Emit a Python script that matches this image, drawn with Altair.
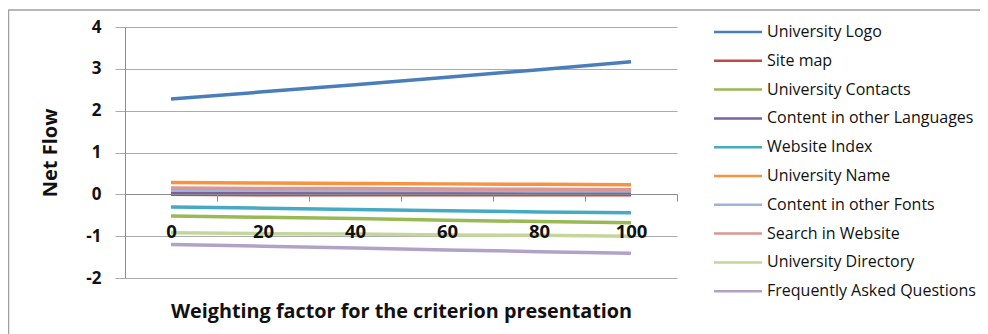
import altair as alt
import pandas as pd

weights = [0, 20, 40, 60, 80, 100]
series = [
    "University Logo", "Site map", "University Contacts", "Content in other Languages",
    "Website Index", "University Name", "Content in other Fonts", "Search in Website",
    "University Directory", "Frequently Asked Questions",
]
colors = ["#4A7EBB", "#BE4B48", "#98B954", "#7D60A0", "#46AAC5",
          "#F69240", "#9BB4D8", "#D99694", "#C3D69B", "#B3A2C7"]

university_logo = [2.28, 2.45, 2.62, 2.80, 2.98, 3.17]
site_map = [0.00, -0.01, -0.01, -0.01, -0.01, -0.01]
university_contacts = [-0.52, -0.55, -0.58, -0.62, -0.65, -0.68]
content_languages = [0.05, 0.05, 0.04, 0.04, 0.03, 0.03]
website_index = [-0.30, -0.33, -0.36, -0.39, -0.42, -0.44]
university_name = [0.28, 0.27, 0.26, 0.25, 0.24, 0.23]
content_fonts = [0.10, 0.10, 0.09, 0.09, 0.08, 0.08]
search_website = [0.15, 0.14, 0.14, 0.13, 0.12, 0.11]
university_directory = [-0.92, -0.94, -0.95, -0.97, -0.98, -1.00]
faq = [-1.20, -1.24, -1.28, -1.33, -1.37, -1.41]

values = [university_logo, site_map, university_contacts, content_languages,
          website_index, university_name, content_fonts, search_website,
          university_directory, faq]

rows = []
for i, (name, vals) in enumerate(zip(series, values)):
    for w, v in zip(weights, vals):
        rows.append({"weight": w, "net": v, "series": name, "idx": i})
df = pd.DataFrame(rows)

FONT = "Open Sans"

lines = alt.Chart(df).mark_line(strokeWidth=3.5, clip=False).encode(
    x=alt.X("weight:Q",
            scale=alt.Scale(domain=[-10, 110], nice=False, zero=False),
            axis=alt.Axis(values=weights, offset=-84, tickOffset=46, labelOffset=-46,
                          tickSize=7, tickColor="#8c8c8c", domainColor="#8c8c8c",
                          grid=False, labelPadding=21, labelFontSize=18.5,
                          labelFontWeight="bold", labelColor="#111111", labelFont=FONT,
                          zindex=1,
                          title="Weighting factor for the criterion presentation",
                          titleFont=FONT, titleFontSize=19.8, titleFontWeight="bold",
                          titleColor="#111111", titleY=117, titleBaseline="middle")),
    y=alt.Y("net:Q",
            scale=alt.Scale(domain=[-2, 4], nice=False, zero=False),
            axis=alt.Axis(values=[-2, -1, 0, 1, 2, 3, 4], grid=True, gridColor="#ababab",
                          tickColor="#ababab", tickSize=10, domainColor="#8c8c8c",
                          labelPadding=14, labelFontSize=17, labelFontWeight="bold",
                          labelColor="#111111", labelFont=FONT,
                          labelExpr="'' + datum.value",
                          title="Net Flow", titleFont=FONT, titleFontSize=20,
                          titleFontWeight="bold", titleColor="#111111",
                          titleX=-75, titleBaseline="middle")),
    color=alt.Color("series:N",
                    scale=alt.Scale(domain=series, range=colors),
                    legend=alt.Legend(title=None, orient="none", legendX=605, legendY=-3,
                                      symbolType="M-4,0H4", symbolSize=144,
                                      symbolStrokeWidth=2.5, labelFont=FONT,
                                      labelFontSize=16, labelColor="#111111",
                                      labelOffset=21, labelLimit=320, rowPadding=12.8,
                                      padding=0, offset=0)),
    order=alt.Order("idx:Q"),
    detail="series:N",
)

border = alt.Chart(pd.DataFrame({"a": [0]})).mark_rect(
    fill="transparent", stroke="#a0a0a0", strokeWidth=1.5, clip=False
).encode(x=alt.value(-116.5), x2=alt.value(900), y=alt.value(-17), y2=alt.value(400))

chart = alt.layer(border, lines).properties(
    width=552, height=251,
    autosize=alt.AutoSizeParams(type="none"),
    padding={"left": 117, "top": 19, "right": 303, "bottom": 56},
).configure_view(stroke="transparent")

chart.save("out.html", embed_options={"renderer": "svg", "actions": False})
